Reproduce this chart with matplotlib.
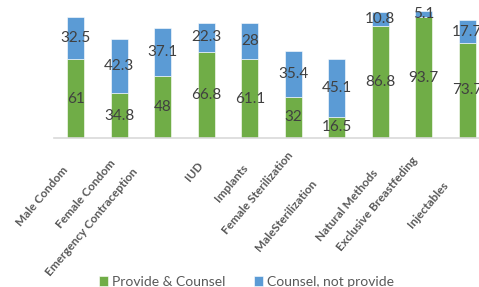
import matplotlib.pyplot as plt

# contraceptive methods and percentages
methods = ['Male Condom', 'Female Condom', 'Emergency Contraception', 'IUD', 'Implants',
           'Female Sterilization', 'MaleSterilization', 'Natural Methods',
           'Exclusive Breastfeding', 'Injectables']
provide_counsel = [61, 34.8, 48, 66.8, 61.1, 32, 16.5, 86.8, 93.7, 73.7]
counsel_only = [32.5, 42.3, 37.1, 22.3, 28, 35.4, 45.1, 10.8, 5.1, 17.7]

# label nudges in pixels (x, down) - the original layout is a bit irregular
label_offsets = [(-10, 30), (-6, 23), (-27, 32), (-5, 25), (-4, 28),
                 (-2, 15), (-22, 43), (-4, 33), (-8, 20), (-21, 45)]

green = '#70AD47'
blue = '#5B9BD5'

fig = plt.figure(figsize=(4.79, 2.87), dpi=100)
ax = fig.add_axes([54 / 479, 149 / 287, 435 / 479, 129 / 287])

x = range(len(methods))
b1 = ax.bar(x, provide_counsel, width=0.4, color=green, edgecolor='white', linewidth=0.4,
            label='Provide & Counsel')
b2 = ax.bar(x, counsel_only, width=0.4, bottom=provide_counsel, color=blue,
            edgecolor='white', linewidth=0.4, label='Counsel, not provide')

for bars in (b1, b2):
    ax.bar_label(bars, label_type='center', fmt='%g', fontsize=11, color='#404040',
                 family='Lato')

ax.set_xlim(-0.5, len(methods) - 0.5)
ax.set_ylim(0, 100)
ax.set_yticks([])
ax.set_xticks([])
for side in ['left', 'right', 'top']:
    ax.spines[side].set_visible(False)
ax.spines['bottom'].set_color('#D9D9D9')
ax.spines['bottom'].set_linewidth(1.2)

for i, name in enumerate(methods):
    dx, dy = label_offsets[i]
    ax.annotate(name, xy=(i, 0), xycoords=('data', 'axes fraction'),
                xytext=(dx, -dy), textcoords='offset pixels', rotation=50,
                ha='right', va='center', rotation_mode='anchor',
                fontsize=8.5, fontweight='bold', color='#595959', family='Lato')

fig.legend(loc='upper left', bbox_to_anchor=(86 / 479, 1 - 263 / 287), ncol=2,
           frameon=False, handlelength=0.7, handleheight=0.7,
           handletextpad=0.3, columnspacing=2.0, prop={'family': 'Lato', 'size': 10},
           labelcolor='#595959')

fig.savefig('out.png', dpi=100)
